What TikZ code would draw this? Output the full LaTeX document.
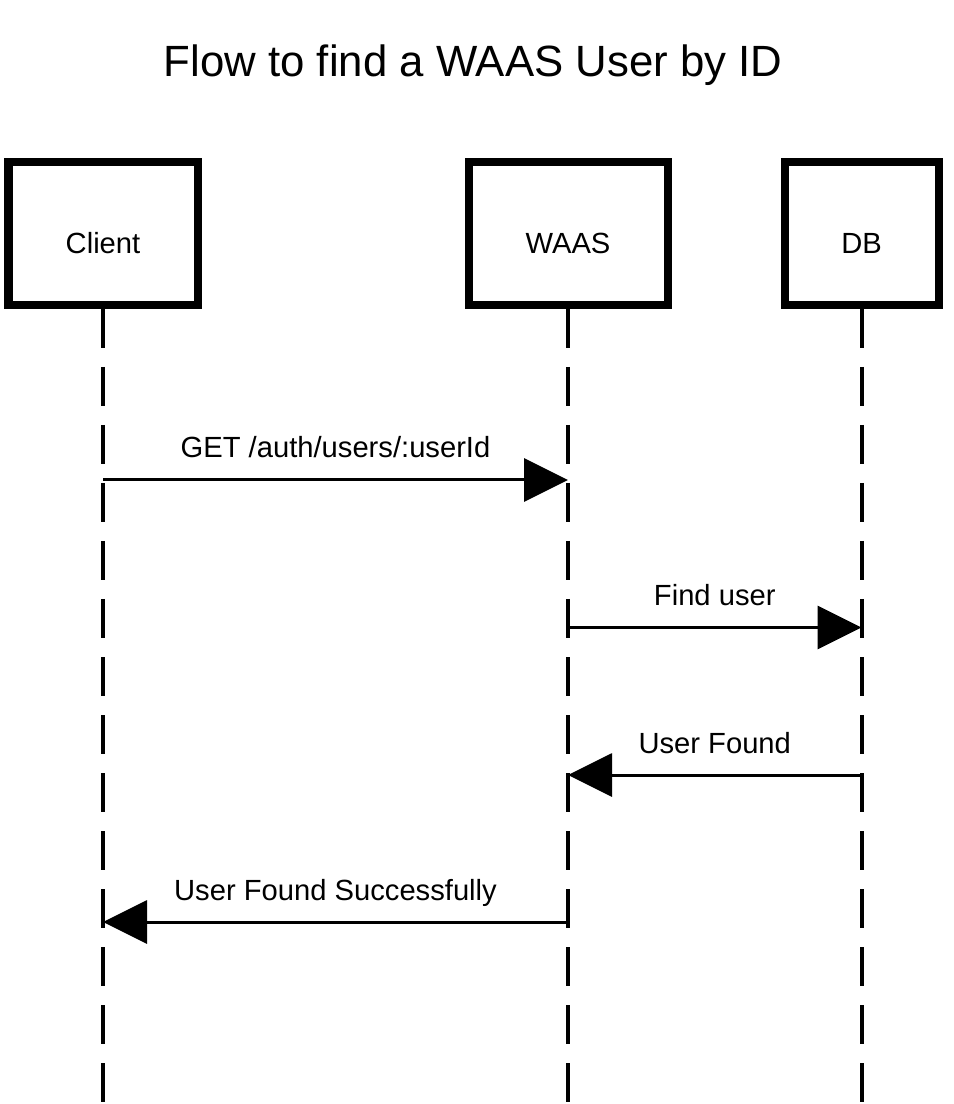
\documentclass[tikz,border=0pt]{standalone}
\usepackage{fontspec}
\setmainfont{Liberation Sans}
\usetikzlibrary{arrows.meta}

\tikzset{
  heading/.style={font=\fontsize{12.45}{15}\selectfont, anchor=base, inner sep=0pt},
  actor/.style={draw, line width=0.08cm, minimum height=1.43cm, text height=0.41cm,
    inner sep=0pt, font=\fontsize{8.3}{10}\selectfont},
  lifeline/.style={line width=0.04cm, dash pattern=on 0.39cm off 0.19cm},
  msg/.style={line width=0.03cm, -{Triangle[length=0.44cm, width=0.43cm]}},
  msglabel/.style={midway, anchor=base, yshift=0.22cm, inner sep=0pt,
    font=\fontsize{8.3}{10}\selectfont}
}

\begin{document}
\begin{tikzpicture}

\useasboundingbox (0,0) rectangle (9.54,-11.04);

% title of the sequence
\node[heading] (title) at (4.73,-0.77) {Flow to find a WAAS User by ID};

% the three participants
\path
(1.03,-2.335) node[actor, minimum width=1.89cm] (client) {Client}
(5.68,-2.335) node[actor, minimum width=1.99cm] (waas) {WAAS}
(8.615,-2.335) node[actor, minimum width=1.54cm] (db) {DB};

% lifelines down to the lower edge
\foreach \p in {client, waas, db}
  \draw[lifeline] (\p.south) -- (\p |- 0,-11.04) coordinate (\p-end);

% messages
\draw[msg] (client |- 0,-4.80) -- (waas |- 0,-4.80)
node[msglabel] {GET /auth/users/:userId};
\draw[msg] (waas |- 0,-6.275) -- (db |- 0,-6.275)
node[msglabel] {Find user};
\draw[msg] (db |- 0,-7.75) -- (waas |- 0,-7.75)
node[msglabel] {User Found};
\draw[msg] (waas |- 0,-9.22) -- (client |- 0,-9.22)
node[msglabel] {User Found Successfully};

\end{tikzpicture}
\end{document}
